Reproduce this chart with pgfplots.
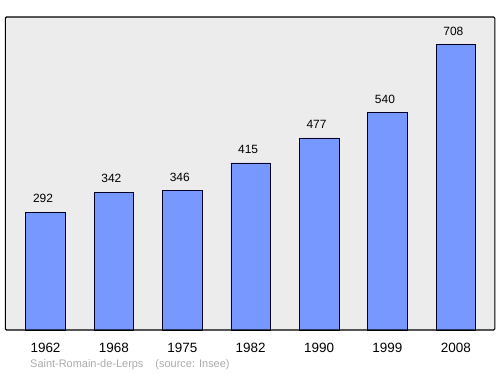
\documentclass[border=0pt]{standalone}
\usepackage{pgfplots}
\pgfplotsset{compat=1.18}
\usepackage{fontspec}
\setmainfont{Liberation Sans}
\definecolor{barblue}{RGB}{119,153,255}
\definecolor{bgray}{RGB}{236,236,236}
\definecolor{srcgray}{RGB}{170,170,170}
\begin{document}
\begin{tikzpicture}[x=1bp,y=1bp]
\path (0,0) rectangle (500,374);
\begin{axis}[
  at={(5.3bp,44bp)}, anchor=south west,
  width=489.5bp, height=313bp, scale only axis,
  xmin=-0.588, xmax=6.57, ymin=0, ymax=777,
  axis background/.style={fill=bgray},
  axis line style={draw=none},
  /pgf/number format/assume math mode=true,
  ytick=\empty,
  xtick={0,...,6},
  xticklabels={1962,1968,1975,1982,1990,1999,2008},
  major tick length=0pt,
  xticklabel style={font=\fontsize{13.5}{15}\selectfont, inner sep=0pt, anchor=north, yshift=-12.5bp},
  nodes near coords,
  every node near coord/.append style={font=\fontsize{12}{14}\selectfont, black, anchor=south, inner sep=0pt, yshift=9bp, xshift=-2.5bp},
  clip=false,
]
\addplot[ybar, bar width=39.5bp, fill=barblue, draw=black!85!blue, line width=0.6pt] coordinates {
(0,292) (1,342) (2,346) (3,415) (4,477) (5,540) (6,708)};
\draw[line width=1.1pt, black, rounded corners=1.2bp] (rel axis cs:0,0) rectangle (rel axis cs:1,1);
\end{axis}
\node[anchor=west, text=srcgray, font=\fontsize{11}{13}\selectfont, inner sep=0pt] at (30,9) {Saint-Romain-de-Lerps\hspace{12bp}(source: Insee)};
\end{tikzpicture}
\end{document}
